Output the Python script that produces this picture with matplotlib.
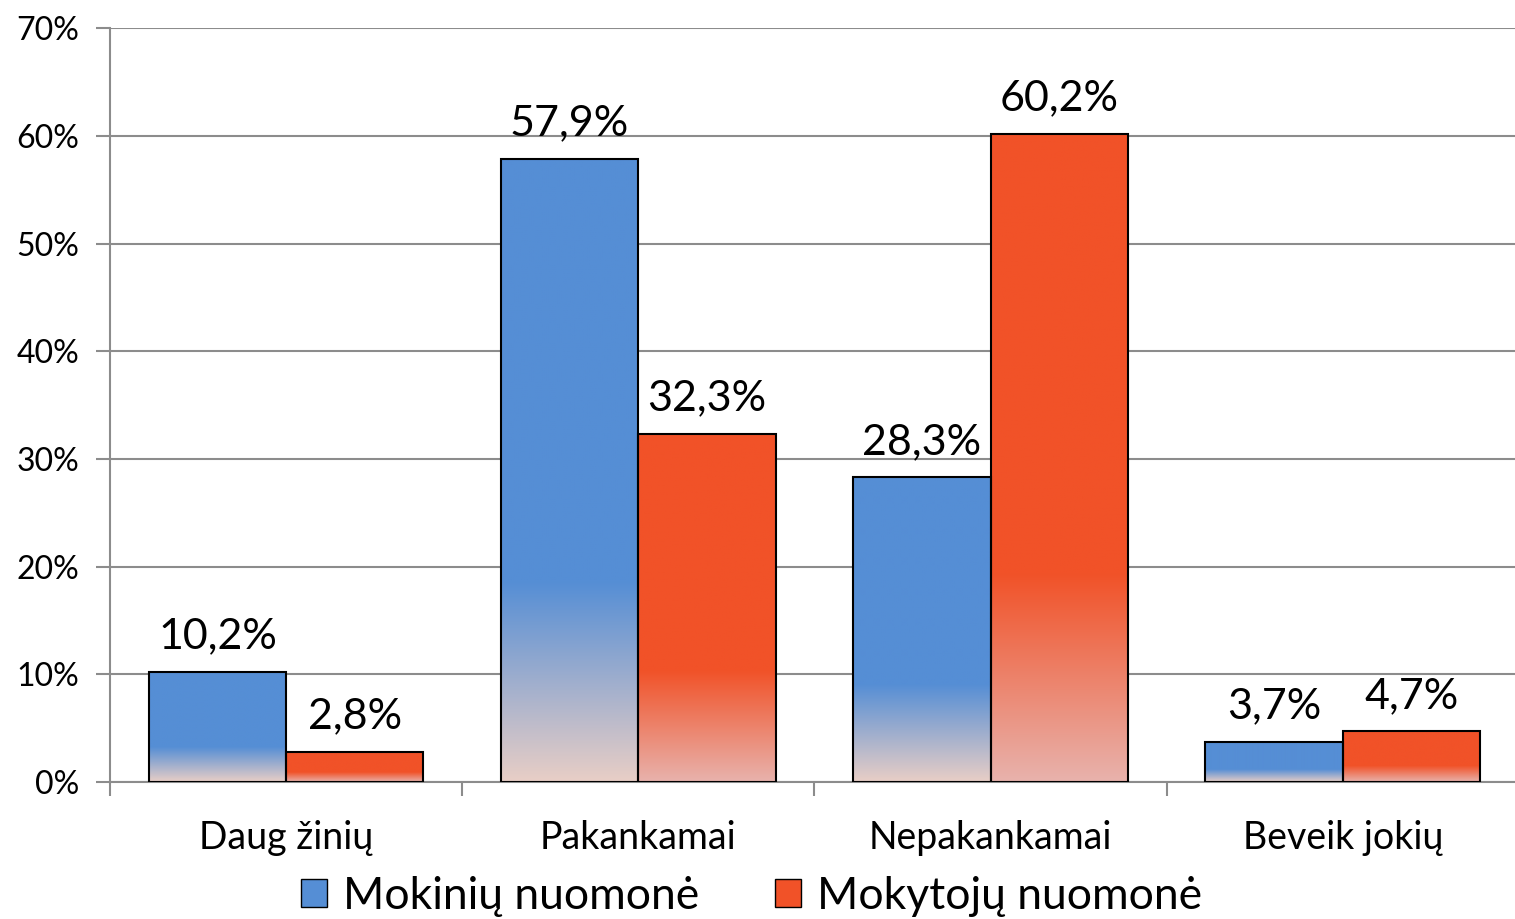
import numpy as np
import matplotlib.pyplot as plt
from matplotlib.colors import to_rgb
from matplotlib.patches import Patch

plt.rcParams['font.family'] = ['Lato', 'DejaVu Sans']

categories = ['Daug žinių', 'Pakankamai', 'Nepakankamai', 'Beveik jokių']
mokiniu = [10.2, 57.9, 28.3, 3.7]
mokytoju = [2.8, 32.3, 60.2, 4.7]
series_names = ['Mokinių nuomonė', 'Mokytojų nuomonė']

blue_top, blue_bottom = '#558ED5', '#E8CEC6'
red_top, red_bottom = '#F15228', '#E8B2AC'


def gradient_fill(ax, bar, top, bottom, solid_frac):
    """uzpildo stulpeli gradientu: virsuje vientisa spalva, apacioje blyskesne"""
    x0, w, h = bar.get_x(), bar.get_width(), bar.get_height()
    n = 200
    t = np.linspace(0, 1, n)  # 0 virsus, 1 apacia
    k = np.clip((t - solid_frac) / (1 - solid_frac), 0, 1)
    c1, c2 = np.array(to_rgb(top)), np.array(to_rgb(bottom))
    img = c1[None, :] * (1 - k[:, None]) + c2[None, :] * k[:, None]
    img = img[:, None, :]
    ax.imshow(img, extent=[x0, x0 + w, 0, h], aspect='auto', zorder=2,
              interpolation='bilinear')
    bar.set_facecolor('none')


fig = plt.figure(figsize=(15.15, 9.19), dpi=100)
ax = fig.add_axes([0.0726, 0.149, 0.93, 0.82])

x = np.arange(len(categories))
w = 0.39
b1 = ax.bar(x - w / 2, mokiniu, w, edgecolor='black', linewidth=1.5, zorder=3)
b2 = ax.bar(x + w / 2, mokytoju, w, edgecolor='black', linewidth=1.5, zorder=3)

for bar in b1:
    gradient_fill(ax, bar, blue_top, blue_bottom, 0.68)
for bar in b2:
    gradient_fill(ax, bar, red_top, red_bottom, 0.68)

for bars in (b1, b2):
    for bar in bars:
        v = bar.get_height()
        ax.annotate(f'{v:.1f}'.replace('.', ',') + '%',
                    (bar.get_x() + bar.get_width() / 2, v),
                    xytext=(0, 12), textcoords='offset points',
                    ha='center', va='bottom', fontsize=31)

ax.set_xlim(-0.5, 3.5)
ax.set_ylim(0, 70)
ax.set_yticks(range(0, 71, 10))
ax.set_yticklabels([f'{v}%' for v in range(0, 71, 10)], fontsize=23)
ax.yaxis.grid(True, color='#8c8c8c', linewidth=1.5, zorder=0)
ax.set_axisbelow(True)

ax.set_xticks(x)
ax.set_xticklabels(categories, fontsize=27)
ax.set_xticks(np.arange(-0.5, 3.6, 1), minor=True)
ax.tick_params(axis='x', which='major', length=0, pad=27)
ax.tick_params(axis='x', which='minor', length=10, width=1.5, color='#8c8c8c')
ax.tick_params(axis='y', length=10, width=1.5, color='#8c8c8c', pad=12)

for s in ['top', 'right']:
    ax.spines[s].set_visible(False)
for s in ['left', 'bottom']:
    ax.spines[s].set_color('#8c8c8c')
    ax.spines[s].set_linewidth(1.5)

handles = [Patch(facecolor=blue_top, edgecolor='black'),
           Patch(facecolor=red_top, edgecolor='black')]
fig.legend(handles, series_names, loc='lower center', ncol=2, frameon=False,
           fontsize=32, bbox_to_anchor=(0.496, -0.041), handlelength=0.6,
           handleheight=0.6, handletextpad=0.35, columnspacing=1.7)

fig.savefig('out.png', dpi=100)
